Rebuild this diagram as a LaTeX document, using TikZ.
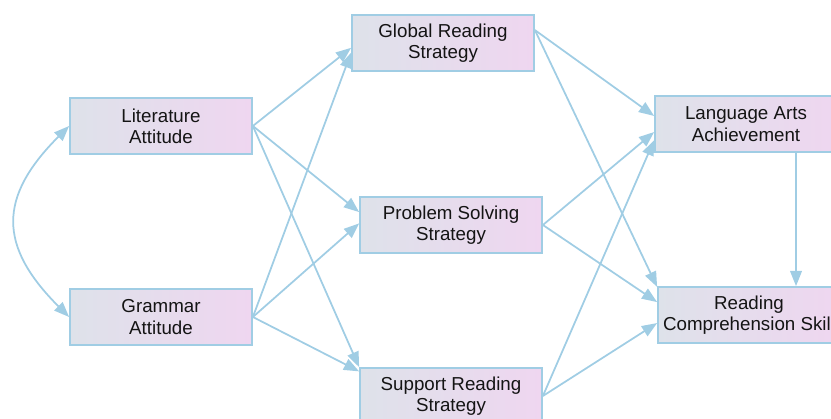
\documentclass[tikz,border=0pt]{standalone}
\usepackage{fontspec}
\setmainfont{Liberation Sans}
\usepackage{tikz}
\usetikzlibrary{arrows.meta}
\definecolor{linkblue}{RGB}{160,205,228}
\definecolor{boxgrey}{RGB}{222,226,234}
\definecolor{boxpink}{RGB}{239,214,240}
\definecolor{inkgrey}{RGB}{20,20,20}
\tikzset{
  % 变量框
  var/.style={
    draw=linkblue,
    line width=1.5pt,
    left color=boxgrey,
    right color=boxpink,
    minimum width=5.46cm,
    minimum height=1.68cm,
    align=center,
    text=inkgrey,
    font=\fontsize{16}{18.2}\selectfont
  },
  % 路径箭头
  link/.style={-{Triangle[length=13pt,width=10pt]}, line width=1.5pt, linkblue},
  % 双向箭头(相关)
  twoway/.style={link, {Triangle[length=13pt,width=10pt]}-{Triangle[length=13pt,width=10pt]}},
}

\begin{document}
\begin{tikzpicture}[x=0.03cm, y=0.03cm]
    \clip (0,0) rectangle (831,419);

    % Attitudes
    \node[var] (lit)  at (161,293) {Literature\\Attitude};
    \node[var] (gram) at (161,102) {Grammar\\Attitude};

    % Strategies
    \node[var] (glob) at (443,376) {Global Reading\\Strategy};
    \node[var] (prob) at (451,194) {Problem Solving\\Strategy};
    \node[var] (sup)  at (451,23)  {Support Reading\\Strategy};

    % Outcomes
    \node[var] (lang) at (746,295) {Language Arts\\Achievement};
    \node[var] (rc)   at (749,104) {Reading\\Comprehension Skill};

    % Covariance
    \draw[twoway] (lit.west) to[out=225, in=135, looseness=1.35] (gram.west);

    % Attitudes -> strategies
    \draw[link] (lit.east)  -- (glob.183);
    \draw[link] (gram.east) -- (glob.186);
    \draw[link] (lit.east)  -- (prob.172);
    \draw[link] (gram.east) -- (prob.179);
    \draw[link] (lit.east)  -- (sup.north west);
    \draw[link] (gram.east) -- (sup.165);

    % Strategies -> outcomes
    \draw[link] (glob.8)    -- (lang.175);
    \draw[link] (glob.8)    -- (rc.163);
    \draw[link] (prob.east) -- (lang.185);
    \draw[link] (prob.east) -- (rc.172);
    \draw[link] (sup.east)  -- (lang.190);
    \draw[link] (sup.east)  -- (rc.185);
    \draw[link] (lang.-30)  -- (lang.-30 |- rc.north);
\end{tikzpicture}
\end{document}
